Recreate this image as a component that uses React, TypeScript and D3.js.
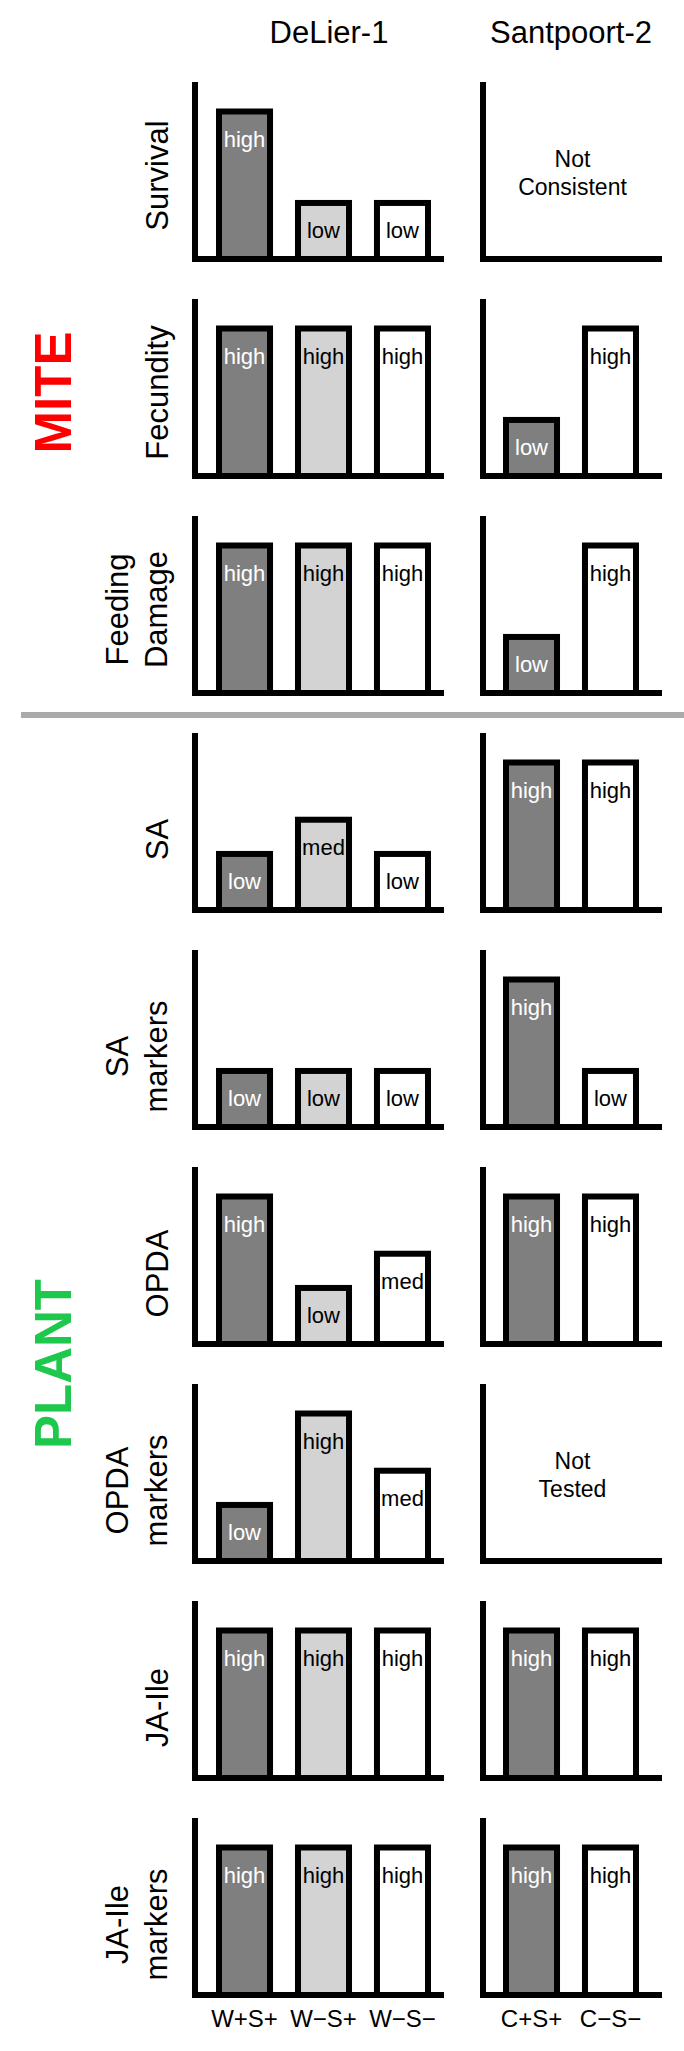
import React from 'react';
import * as d3 from 'd3';

// genotypes and their treatment groups
const genotypes = ['DeLier-1', 'Santpoort-2'];
const deLierGroups = ['W+S+', 'W−S+', 'W−S−'];
const santpoortGroups = ['C+S+', 'C−S−'];

// one row per measured trait
const rowLabels = [
  ['Survival'],
  ['Fecundity'],
  ['Feeding', 'Damage'],
  ['SA'],
  ['SA', 'markers'],
  ['OPDA'],
  ['OPDA', 'markers'],
  ['JA-Ile'],
  ['JA-Ile', 'markers'],
];
const rowGroups = ['MITE', 'MITE', 'MITE', 'PLANT', 'PLANT', 'PLANT', 'PLANT', 'PLANT', 'PLANT'];

const deLierLevels = [
  ['high', 'low', 'low'],
  ['high', 'high', 'high'],
  ['high', 'high', 'high'],
  ['low', 'med', 'low'],
  ['low', 'low', 'low'],
  ['high', 'low', 'med'],
  ['low', 'high', 'med'],
  ['high', 'high', 'high'],
  ['high', 'high', 'high'],
];
const santpoortLevels = [
  null,
  ['low', 'high'],
  ['low', 'high'],
  ['high', 'high'],
  ['high', 'low'],
  ['high', 'high'],
  null,
  ['high', 'high'],
  ['high', 'high'],
];
const santpoortNotes = [['Not', 'Consistent'], null, null, null, null, null, ['Not', 'Tested'], null, null];

// relative height of each qualitative level
const levelValues = { low: 0.95, med: 1.53, high: 2.5 };

const deLierFills = ['#7f7f7f', '#d3d3d3', '#ffffff'];
const santpoortFills = ['#7f7f7f', '#ffffff'];
const groupColors = { MITE: '#ff0000', PLANT: '#1ec84c' };

const FONT = '"Liberation Sans", Arial, Helvetica, sans-serif';
const W = 684;
const H = 2051;
const rowTop = 82;
const rowStep = 217;
const plotH = 177;
const sw = 6;

const panels = [
  { name: genotypes[0], axisX: 195, axisEnd: 444, groups: deLierGroups, fills: deLierFills, levels: deLierLevels, notes: null, titleX: 329,
    x: d3.scaleBand().domain(deLierGroups).range([219, 428]).paddingInner(0.354) },
  { name: genotypes[1], axisX: 483, axisEnd: 662, groups: santpoortGroups, fills: santpoortFills, levels: santpoortLevels, notes: santpoortNotes, titleX: 571,
    x: d3.scaleBand().domain(santpoortGroups).range([506, 636]).paddingInner(0.354) },
];

const y = d3.scaleLinear().domain([0, 3]).range([plotH, 0]);

const Panel = ({ p, row }) => {
  const lv = p.levels[row];
  const note = p.notes ? p.notes[row] : null;
  return (
    <g>
      {lv && lv.map((l, i) => {
        const g = p.groups[i];
        const x0 = p.x(g);
        const bw = p.x.bandwidth();
        const top = y(levelValues[l]);
        return (
          <g key={g}>
            <rect x={x0} y={top} width={bw} height={plotH - top} fill={p.fills[i]} stroke="#000" strokeWidth={sw} />
            <text x={x0 + bw / 2} y={top + 35} textAnchor="middle" fontSize={22} fontFamily={FONT}
              fill={i === 0 ? '#fff' : '#000'}>{l}</text>
          </g>
        );
      })}
      {note && note.map((t, k) => (
        <text key={t} x={(p.axisX + p.axisEnd) / 2} y={plotH / 2 - 4 + k * 28} textAnchor="middle" fontSize={23} fontFamily={FONT}>{t}</text>
      ))}
      <line x1={p.axisX} x2={p.axisX} y1={0} y2={plotH + sw / 2} stroke="#000" strokeWidth={sw} />
      <line x1={p.axisX - sw / 2} x2={p.axisEnd} y1={plotH} y2={plotH} stroke="#000" strokeWidth={sw} />
    </g>
  );
};

const App = () => {
  const groupSpan = (name) => {
    const idx = rowGroups.map((g, i) => (g === name ? i : -1)).filter((i) => i >= 0);
    const a = rowTop + d3.min(idx) * rowStep;
    const b = rowTop + d3.max(idx) * rowStep + plotH;
    return (a + b) / 2;
  };
  return (
    <svg width={W} height={H} style={{ position: 'absolute', left: 0, top: 0, background: '#fff' }}>
      {panels.map((p) => (
        <text key={p.name} x={p.titleX} y={43} textAnchor="middle" fontSize={31} fontFamily={FONT}>{p.name}</text>
      ))}

      {rowLabels.map((lab, r) => {
        const cy = rowTop + r * rowStep + plotH / 2 + (rowGroups[r] === 'MITE' ? 5 : 18);
        return (
          <g key={r} transform={`translate(0,${rowTop + r * rowStep})`}>
            {panels.map((p) => <Panel key={p.name} p={p} row={r} />)}
            {lab.map((t, k) => {
              const bx = lab.length === 1 ? 168 : 128 + k * 39;
              return (
                <text key={t} transform={`translate(${bx},${cy - rowTop - r * rowStep}) rotate(-90)`}
                  textAnchor="middle" fontSize={31} fontFamily={FONT}>{t}</text>
              );
            })}
          </g>
        );
      })}

      {['MITE', 'PLANT'].map((g) => (
        <text key={g} transform={`translate(71,${groupSpan(g) + (g === 'MITE' ? 5 : 0)}) rotate(-90)`}
          textAnchor="middle" fontSize={51} fontWeight="bold" fontFamily={FONT} fill={groupColors[g]}>{g}</text>
      ))}

      <line x1={21} x2={W} y1={715} y2={715} stroke="#aaaaaa" strokeWidth={6} />

      {panels.map((p) => p.groups.map((g) => (
        <text key={g} x={p.x(g) + p.x.bandwidth() / 2} y={2027} textAnchor="middle" fontSize={24} fontFamily={FONT}>{g}</text>
      )))}
    </svg>
  );
};

export default App;
